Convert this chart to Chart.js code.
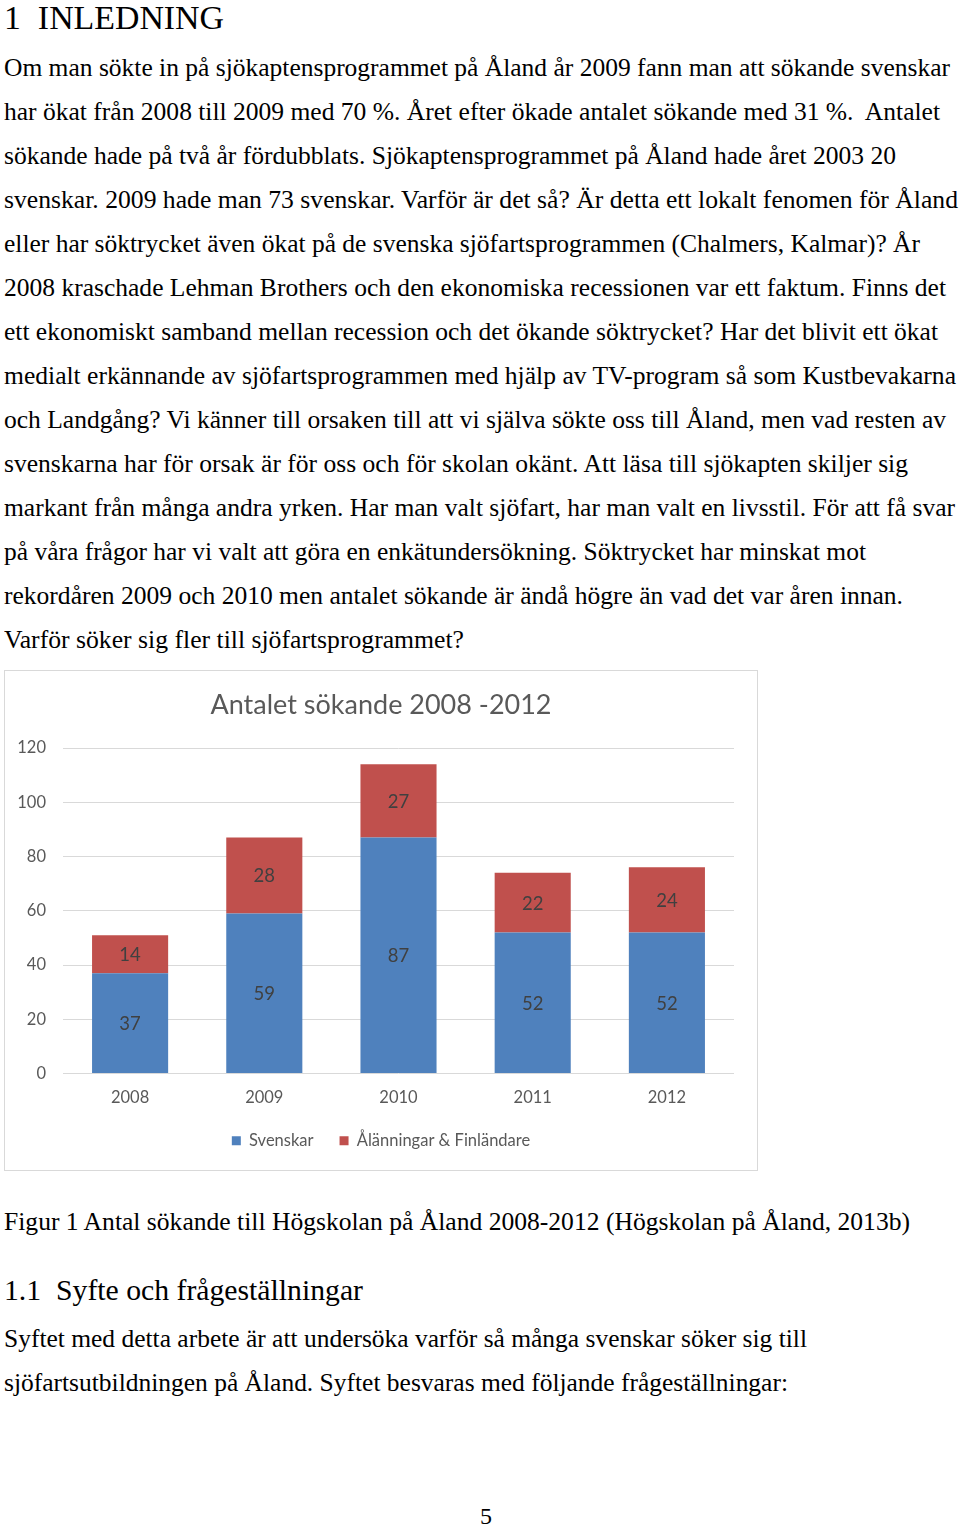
<!DOCTYPE html>
<html><head><meta charset="utf-8">
<script src="https://cdn.jsdelivr.net/npm/chart.js@4.4.1/dist/chart.umd.min.js"></script>
<style>
html,body{margin:0;padding:0;background:#fff;}
body{width:960px;height:1528px;position:relative;overflow:hidden;font-family:"Liberation Serif","Times New Roman",serif;color:#000;}
.ln{position:absolute;left:4px;white-space:nowrap;font-size:25.5px;line-height:24px;transform-origin:0 50%;}
#box{position:absolute;left:4px;top:670px;width:754px;height:501px;border:1px solid #d9d9d9;box-sizing:border-box;}
#box canvas{display:block;}
</style></head>
<body>
<div class="ln" style="top:1px;font-size:34px;line-height:34px" data-w="220">1&nbsp;&nbsp;INLEDNING</div>
<div class="ln" style="top:56px" data-w="946">Om man sökte in på sjökaptensprogrammet på Åland år 2009 fann man att sökande svenskar</div>
<div class="ln" style="top:100px" data-w="936">har ökat från 2008 till 2009 med 70 %. Året efter ökade antalet sökande med 31 %.&nbsp; Antalet</div>
<div class="ln" style="top:144px" data-w="892">sökande hade på två år fördubblats. Sjökaptensprogrammet på Åland hade året 2003 20</div>
<div class="ln" style="top:188px" data-w="954">svenskar. 2009 hade man 73 svenskar. Varför är det så? Är detta ett lokalt fenomen för Åland</div>
<div class="ln" style="top:232px" data-w="916">eller har söktrycket även ökat på de svenska sjöfartsprogrammen (Chalmers, Kalmar)? År</div>
<div class="ln" style="top:276px" data-w="942">2008 kraschade Lehman Brothers och den ekonomiska recessionen var ett faktum. Finns det</div>
<div class="ln" style="top:320px" data-w="934">ett ekonomiskt samband mellan recession och det ökande söktrycket? Har det blivit ett ökat</div>
<div class="ln" style="top:364px" data-w="952">medialt erkännande av sjöfartsprogrammen med hjälp av TV-program så som Kustbevakarna</div>
<div class="ln" style="top:408px" data-w="942">och Landgång? Vi känner till orsaken till att vi själva sökte oss till Åland, men vad resten av</div>
<div class="ln" style="top:452px" data-w="904">svenskarna har för orsak är för oss och för skolan okänt. Att läsa till sjökapten skiljer sig</div>
<div class="ln" style="top:496px" data-w="951">markant från många andra yrken. Har man valt sjöfart, har man valt en livsstil. För att få svar</div>
<div class="ln" style="top:540px" data-w="862">på våra frågor har vi valt att göra en enkätundersökning. Söktrycket har minskat mot</div>
<div class="ln" style="top:584px" data-w="899">rekordåren 2009 och 2010 men antalet sökande är ändå högre än vad det var åren innan.</div>
<div class="ln" style="top:628px" data-w="460">Varför söker sig fler till sjöfartsprogrammet?</div>

<div id="box"><canvas id="c" width="752" height="499"></canvas></div>

<div class="ln" style="top:1210px" data-w="906">Figur 1 Antal sökande till Högskolan på Åland 2008-2012 (Högskolan på Åland, 2013b)</div>
<div class="ln" style="top:1275px;font-size:30px;line-height:30px" data-w="359">1.1&nbsp;&nbsp;Syfte och frågeställningar</div>
<div class="ln" style="top:1327px" data-w="803">Syftet med detta arbete är att undersöka varför så många svenskar söker sig till</div>
<div class="ln" style="top:1371px" data-w="784">sjöfartsutbildningen på Åland. Syftet besvaras med följande frågeställningar:</div>
<div class="ln" style="top:1504px;left:480px;font-size:24px">5</div>

<script>
// fit each text line to its measured width in the reference
document.querySelectorAll('.ln[data-w]').forEach(function(el){
  var w = el.getBoundingClientRect().width;
  var t = parseFloat(el.getAttribute('data-w'));
  el.style.transform = 'scaleX(' + (t / w) + ')';
});

const categories = ['2008', '2009', '2010', '2011', '2012'];
const svenskar = [37, 59, 87, 52, 52];
const alanningar = [14, 28, 27, 22, 24];
const yTicks = [0, 20, 40, 60, 80, 100, 120];
const chartTitle = 'Antalet sökande 2008 -2012';
const seriesNames = ['Svenskar', 'Ålänningar & Finländare'];

const valueLabels = {
  id: 'valueLabels',
  afterDatasetsDraw(chart) {
    const ctx = chart.ctx;
    ctx.save();
    ctx.font = '18.5px Lato';
    ctx.fillStyle = '#404040';
    ctx.textAlign = 'center';
    ctx.textBaseline = 'middle';
    chart.data.datasets.forEach((ds, di) => {
      const meta = chart.getDatasetMeta(di);
      meta.data.forEach((el, i) => {
        const p = el.getProps(['x', 'y', 'base'], true);
        ctx.fillText(String(ds.data[i]), p.x, (p.y + p.base) / 2 + 1);
      });
    });
    ctx.restore();
  }
};

new Chart(document.getElementById('c'), {
  type: 'bar',
  data: {
    labels: categories,
    datasets: [
      { label: seriesNames[0], data: svenskar, backgroundColor: '#4f81bd', categoryPercentage: 1, barPercentage: 0.567 },
      { label: seriesNames[1], data: alanningar, backgroundColor: '#c0504d', categoryPercentage: 1, barPercentage: 0.567 }
    ]
  },
  options: {
    responsive: false,
    animation: false,
    devicePixelRatio: 1,
    layout: { padding: { left: 0, right: 0, top: 0, bottom: 11 } },
    plugins: {
      title: {
        display: true, text: chartTitle, color: '#595959',
        font: { family: 'Lato', size: 27, weight: 'normal' },
        padding: { top: 18, bottom: 26.6 }
      },
      legend: {
        position: 'bottom',
        labels: {
          color: '#595959', font: { family: 'Lato', size: 16.5 },
          boxWidth: 9, boxHeight: 9, padding: 26
        }
      },
      tooltip: { enabled: false }
    },
    scales: {
      x: {
        stacked: true,
        grid: { display: false, drawTicks: false },
        border: { display: false },
        ticks: { color: '#595959', font: { family: 'Lato', size: 16.5 }, padding: 14 },
        afterFit(s) { s.height = 33; }
      },
      y: {
        stacked: true,
        min: 0, max: 120,
        afterBuildTicks(s) { s.ticks = yTicks.map(v => ({ value: v })); },
        grid: { color: '#d9d9d9', drawTicks: false, lineWidth: 1 },
        border: { display: false },
        ticks: { color: '#595959', font: { family: 'Lato', size: 16.5 }, padding: 17 },
        afterFit(s) { s.width = 58; }
      },
      yRight: {
        position: 'right',
        display: true,
        grid: { display: false, drawTicks: false },
        border: { display: false },
        ticks: { display: false },
        afterFit(s) { s.width = 23; }
      }
    }
  },
  plugins: [valueLabels]
});
</script>
</body></html>
